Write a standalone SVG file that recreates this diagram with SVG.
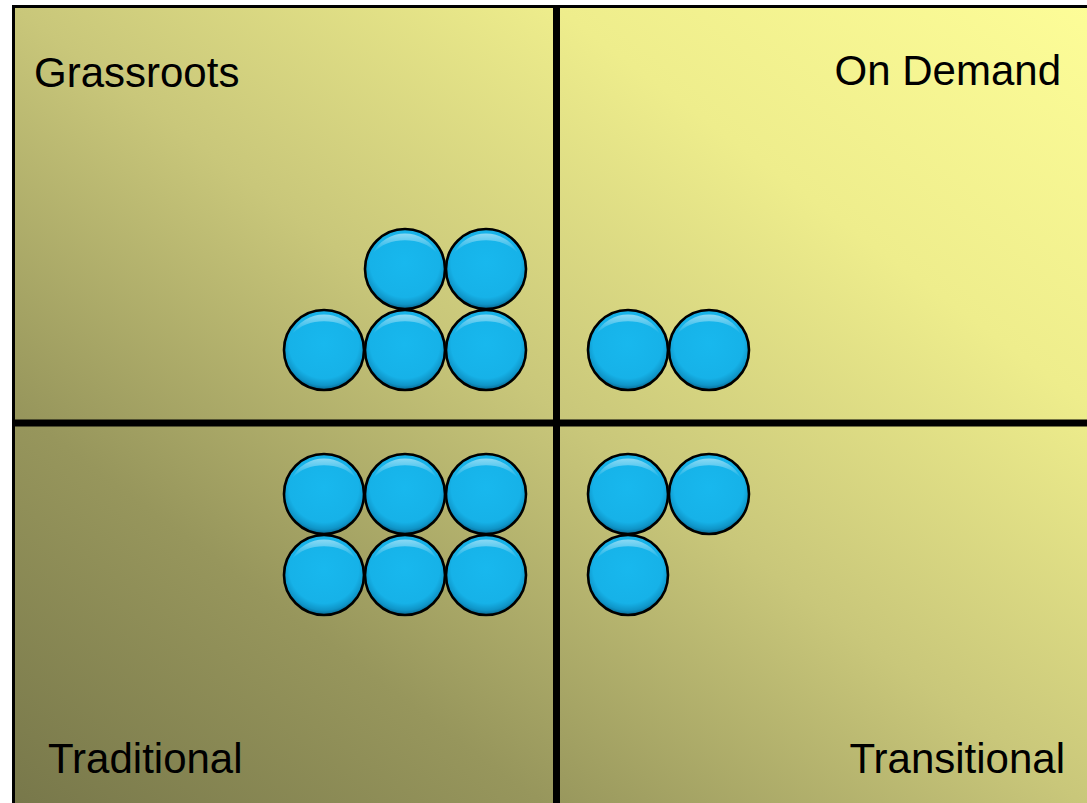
<svg xmlns="http://www.w3.org/2000/svg" width="1087" height="803" viewBox="0 0 1087 803">
  <defs>
    <linearGradient id="bg" x1="0" y1="1" x2="1" y2="0">
      <stop offset="0" stop-color="#77774a"/>
      <stop offset="0.25" stop-color="#97965c"/>
      <stop offset="0.5" stop-color="#c9c77a"/>
      <stop offset="0.75" stop-color="#eeed8c"/>
      <stop offset="1" stop-color="#fdfd98"/>
    </linearGradient>
    <radialGradient id="ball" cx="0.5" cy="0.42" r="0.58">
      <stop offset="0" stop-color="#18b8ee"/>
      <stop offset="0.75" stop-color="#16b2e8"/>
      <stop offset="0.9" stop-color="#0f95c8"/>
      <stop offset="1" stop-color="#096690"/>
    </radialGradient>
    <linearGradient id="shine" x1="0" y1="0" x2="0" y2="1">
      <stop offset="0" stop-color="#ffffff" stop-opacity="0.5"/>
      <stop offset="1" stop-color="#ffffff" stop-opacity="0"/>
    </linearGradient>
    <g id="b">
      <circle r="40" fill="url(#ball)" stroke="#000" stroke-width="2.6"/>
      <path d="M-32,-16 A36,36 0 0 1 32,-16 A40,32 0 0 0 -32,-16 Z" fill="url(#shine)"/>
    </g>
  </defs>
  <style>
    .lbl { font-family: "Liberation Sans", Arial, sans-serif; font-size: 42px; fill: #000; }
  </style>
  <rect width="1087" height="803" fill="#fff"/>
  <rect x="13.5" y="6.5" width="1080" height="805" fill="url(#bg)" stroke="#000" stroke-width="3"/>
  <g id="connectors">
    <line x1="556.5" y1="8" x2="556.5" y2="803" stroke="#000" stroke-width="7"/>
    <line x1="15" y1="423" x2="1087" y2="423" stroke="#000" stroke-width="7"/>
  </g>
  <g id="grassroots">
    <text class="lbl" x="34" y="87">Grassroots</text>
    <use href="#b" x="405" y="269"/>
    <use href="#b" x="486" y="269"/>
    <use href="#b" x="324" y="350"/>
    <use href="#b" x="405" y="350"/>
    <use href="#b" x="486" y="350"/>
  </g>
  <g id="on-demand">
    <text class="lbl" x="1061" y="85" text-anchor="end">On Demand</text>
    <use href="#b" x="628" y="350"/>
    <use href="#b" x="709" y="350"/>
  </g>
  <g id="traditional">
    <text class="lbl" x="48" y="773">Traditional</text>
    <use href="#b" x="324" y="494"/>
    <use href="#b" x="405" y="494"/>
    <use href="#b" x="486" y="494"/>
    <use href="#b" x="324" y="575"/>
    <use href="#b" x="405" y="575"/>
    <use href="#b" x="486" y="575"/>
  </g>
  <g id="transitional">
    <text class="lbl" x="1065" y="773" text-anchor="end">Transitional</text>
    <use href="#b" x="628" y="494"/>
    <use href="#b" x="709" y="494"/>
    <use href="#b" x="628" y="575"/>
  </g>
</svg>
